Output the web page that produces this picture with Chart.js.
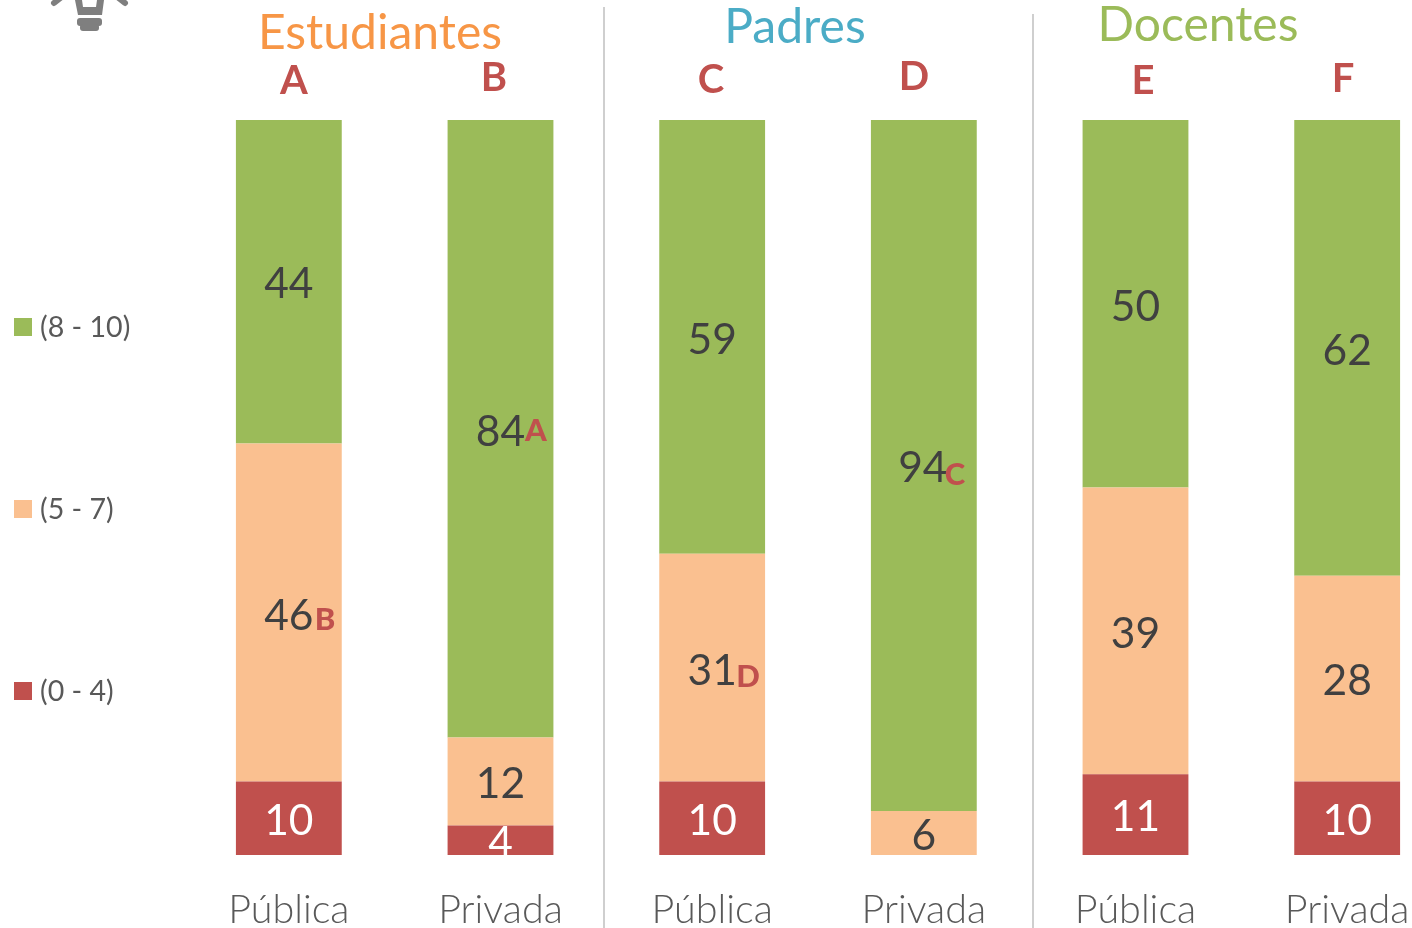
<!DOCTYPE html>
<html><head><meta charset="utf-8">
<style>
html,body{margin:0;padding:0;width:1412px;height:928px;overflow:hidden;background:#fff}
#wrap{position:relative;width:1412px;height:928px;overflow:hidden}
#wrap canvas{position:absolute;left:0;top:0}
</style>
<script src="https://cdn.jsdelivr.net/npm/chart.js@4"></script>
</head><body>
<div id="wrap"><canvas id="c" width="1500" height="980" style="width:1500px;height:980px"></canvas></div>
<script>
const categories = ["Pública","Privada","Pública","Privada","Pública","Privada"];
const low  = [10,4,10,0,11,10];
const mid  = [46,12,31,6,39,28];
const high = [44,84,59,94,50,62];
const seriesNames = ["(0 - 4)","(5 - 7)","(8 - 10)"];
const seriesColors = ["#C0504D","#FAC090","#9BBB59"];
const labelColors = ["#ffffff","#404040","#404040"];

const FONT = "Lato, Carlito, Calibri, sans-serif";
const RED = "#C0504D";
const groupTitles = [
  {t:"Estudiantes", x:380, y:34, c:"#F79646"},
  {t:"Padres", x:795, y:28, c:"#4BACC6"},
  {t:"Docentes", x:1198, y:26, c:"#9BBB59"}
];
const topLetters = [
  {t:"A", x:294, y:81},{t:"B", x:494, y:78},{t:"C", x:711, y:80},
  {t:"D", x:914, y:77},{t:"E", x:1143, y:81},{t:"F", x:1343, y:79}
];
const smallLetters = [
  {t:"B", x:325, y:620},{t:"A", x:536, y:431},{t:"D", x:748, y:677},{t:"C", x:955, y:475}
];
const labelNudges = {"0,2":[0,3],"3,2":[-1,3],"0,1":[0,4],"2,1":[0,4],"1,2":[0,4],"4,2":[0,4]};
const legendRows = [{i:2,y:328},{i:1,y:510},{i:0,y:692}];
const separators = [{x:604,y:7},{x:1033,y:14}];

const overlay = {
  id:"overlay",
  afterDatasetsDraw(chart){
    const g = chart.ctx;
    g.save();
    g.textAlign="center"; g.textBaseline="middle";
    chart.data.datasets.forEach((ds,di)=>{
      const meta = chart.getDatasetMeta(di);
      meta.data.forEach((bar,i)=>{
        const v = ds.data[i];
        if(!v) return;
        const n = labelNudges[i+","+di] || [0,3];
        g.font = "400 42.5px "+FONT;
        g.fillStyle = labelColors[di];
        g.fillText(String(v), bar.x+n[0], (bar.y+bar.base)/2+n[1]);
      });
    });
    g.strokeStyle="#BFBFBF"; g.lineWidth=1.5;
    separators.forEach(s=>{g.beginPath();g.moveTo(s.x,s.y);g.lineTo(s.x,928);g.stroke();});
    g.font="400 48px "+FONT;
    groupTitles.forEach(o=>{g.fillStyle=o.c;g.fillText(o.t,o.x,o.y);});
    g.font="700 40px "+FONT; g.fillStyle=RED;
    topLetters.forEach(o=>g.fillText(o.t,o.x,o.y));
    g.font="900 31px "+FONT;
    smallLetters.forEach(o=>g.fillText(o.t,o.x,o.y));
    g.textAlign="left";
    g.font="400 28.6px "+FONT;
    legendRows.forEach(r=>{
      g.fillStyle=seriesColors[r.i]; g.fillRect(14,r.y-10,18,18);
      g.fillStyle="#595959"; g.fillText(seriesNames[r.i],40,r.y);
    });
    // bulb icon
    g.strokeStyle="#7F7F7F"; g.fillStyle="#7F7F7F"; g.lineCap="round";
    g.lineWidth=6;
    [[[54,3],[64,-5]],[[125,3],[115,-5]]].forEach(l=>{g.beginPath();g.moveTo(l[0][0],l[0][1]);g.lineTo(l[1][0],l[1][1]);g.stroke();});
    g.beginPath();
    [[75,0],[78,15],[102,15],[104,0],[97,0],[96,7],[83,7],[82,0]].forEach((p,i)=>i?g.lineTo(p[0],p[1]):g.moveTo(p[0],p[1]));
    g.closePath();g.fill();
    g.beginPath();g.roundRect(77,18,25,8,3);g.fill();
    g.beginPath();g.roundRect(80,24,19,7,3);g.fill();
    g.restore();
  }
};

new Chart(document.getElementById("c"),{
  type:"bar",
  data:{
    labels:categories,
    datasets:[low,mid,high].map((d,i)=>({
      label:seriesNames[i], data:d, backgroundColor:seriesColors[i],
      borderWidth:0, categoryPercentage:0.5, barPercentage:1
    }))
  },
  plugins:[overlay],
  options:{
    responsive:false, animation:false,
    layout:{padding:{left:183,right:47,top:120,bottom:0}},
    plugins:{legend:{display:false},tooltip:{enabled:false},title:{display:false}},
    scales:{
      x:{stacked:true,
         grid:{display:false,drawTicks:false},border:{display:false},
         afterFit(s){s.height=125;},
         ticks:{color:"#595959",font:{family:FONT,size:39.5,weight:"300"},padding:32,maxRotation:0,autoSkip:false}},
      y:{stacked:true,display:false,min:0,max:100}
    }
  }
});
</script>
</body></html>
